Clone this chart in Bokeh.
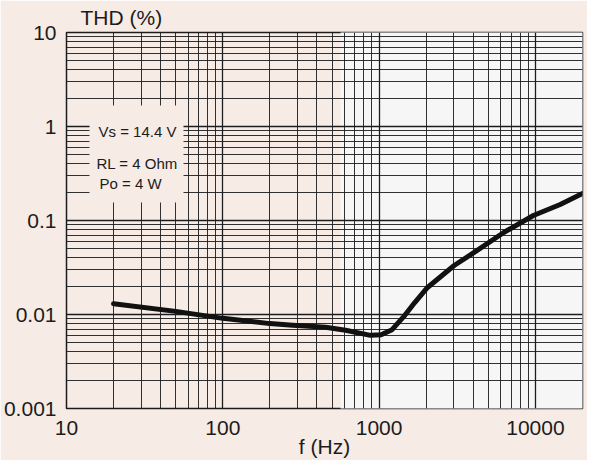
from bokeh.plotting import figure
from bokeh.models import FixedTicker, CustomJSTickFormatter, Label, BoxAnnotation, Range1d
from bokeh.embed import file_html
from bokeh.resources import INLINE

# data
freq = [20, 50, 100, 200, 280, 455, 610, 880, 1030, 1210, 1460, 1690, 2040,
        3020, 4240, 6270, 9700, 14400, 20000]
thd = [0.013, 0.0108, 0.0091, 0.008, 0.0077, 0.0073, 0.0068, 0.006, 0.0061,
       0.0069, 0.0098, 0.0134, 0.0194, 0.0332, 0.048, 0.0745, 0.113, 0.148, 0.194]

x_major = [10, 100, 1000, 10000]
x_minor = [20, 30, 40, 50, 60, 70, 80, 90,
           200, 300, 400, 500, 600, 700, 800, 900,
           2000, 3000, 4000, 5000, 6000, 7000, 8000, 9000, 20000]
y_major = [0.001, 0.01, 0.1, 1, 10]
y_minor = [0.002, 0.003, 0.004, 0.005, 0.006, 0.007, 0.008, 0.009,
           0.02, 0.03, 0.04, 0.05, 0.06, 0.07, 0.08, 0.09,
           0.2, 0.3, 0.4, 0.5, 0.6, 0.7, 0.8, 0.9,
           2, 3, 4, 5, 6, 7, 8, 9]
conditions = ["Vs = 14.4 V", "RL = 4 Ohm", "Po = 4 W"]
y_title = "THD (%)"
x_title = "f (Hz)"

FONT = "Liberation Sans"
PINK = "#f6ebe5"
WHITE = "#f6f6f6"
INK = "#1c1c1c"

p = figure(width=587, height=460, x_axis_type="log", y_axis_type="log",
           x_range=Range1d(10, 20000), y_range=Range1d(0.001, 10),
           output_backend="svg", toolbar_location=None,
           min_border_left=60, min_border_right=5, min_border_top=32, min_border_bottom=52)

p.background_fill_color = PINK
p.border_fill_color = PINK
p.outline_line_color = INK
p.outline_line_width = 1.5

# y-axis title placed at top-left, as in the reference
p.title.text = y_title
p.title.align = "left"
p.title.offset = 14
p.title.standoff = 7
p.title.text_font = FONT
p.title.text_font_size = "21px"
p.title.text_font_style = "normal"
p.title.text_color = INK

# lighter right part of the faded background
p.add_layout(BoxAnnotation(left=340, right=587, top=0, bottom=460,
                           left_units="canvas", right_units="canvas",
                           top_units="canvas", bottom_units="canvas",
                           fill_color=WHITE, fill_alpha=1.0, line_color=None, level="image"))

fmt = CustomJSTickFormatter(code="return tick.toString();")
p.xaxis.ticker = FixedTicker(ticks=x_major, minor_ticks=x_minor)
p.yaxis.ticker = FixedTicker(ticks=y_major, minor_ticks=y_minor)
for ax in (p.xaxis[0], p.yaxis[0]):
    ax.formatter = fmt
    ax.axis_line_color = None
    ax.major_tick_line_color = None
    ax.minor_tick_line_color = None
    ax.major_tick_out = 0
    ax.major_tick_in = 0
    ax.major_label_text_font = FONT
    ax.major_label_text_font_size = "21px"
    ax.major_label_text_color = INK
p.yaxis.major_label_standoff = 6
p.xaxis.major_label_standoff = 8

p.xaxis.axis_label = x_title
p.xaxis.axis_label_text_font = FONT
p.xaxis.axis_label_text_font_size = "21px"
p.xaxis.axis_label_text_font_style = "normal"
p.xaxis.axis_label_text_color = INK
p.xaxis.axis_label_standoff = -3

for g in (p.xgrid[0], p.ygrid[0]):
    g.grid_line_color = INK
    g.grid_line_width = 1.3
    g.grid_line_alpha = 1.0
    g.minor_grid_line_color = INK
    g.minor_grid_line_width = 1.0
    g.minor_grid_line_alpha = 0.9

p.line(freq, thd, line_color="#111111", line_width=5, line_join="round", line_cap="round")

# conditions box
p.add_layout(BoxAnnotation(left=23, right=117, bottom=206, top=303,
                           left_units="screen", right_units="screen",
                           top_units="screen", bottom_units="screen",
                           fill_color=PINK, fill_alpha=1.0, line_color=None))
for txt, lx, ly in zip(conditions, [32, 30, 33], [277, 245, 225]):
    p.add_layout(Label(x=lx, y=ly, x_units="screen", y_units="screen", text=txt,
                       text_font=FONT, text_font_size="15px", text_color=INK,
                       text_baseline="alphabetic", text_align="left"))

open("out.html", "w").write(file_html(p, INLINE))
